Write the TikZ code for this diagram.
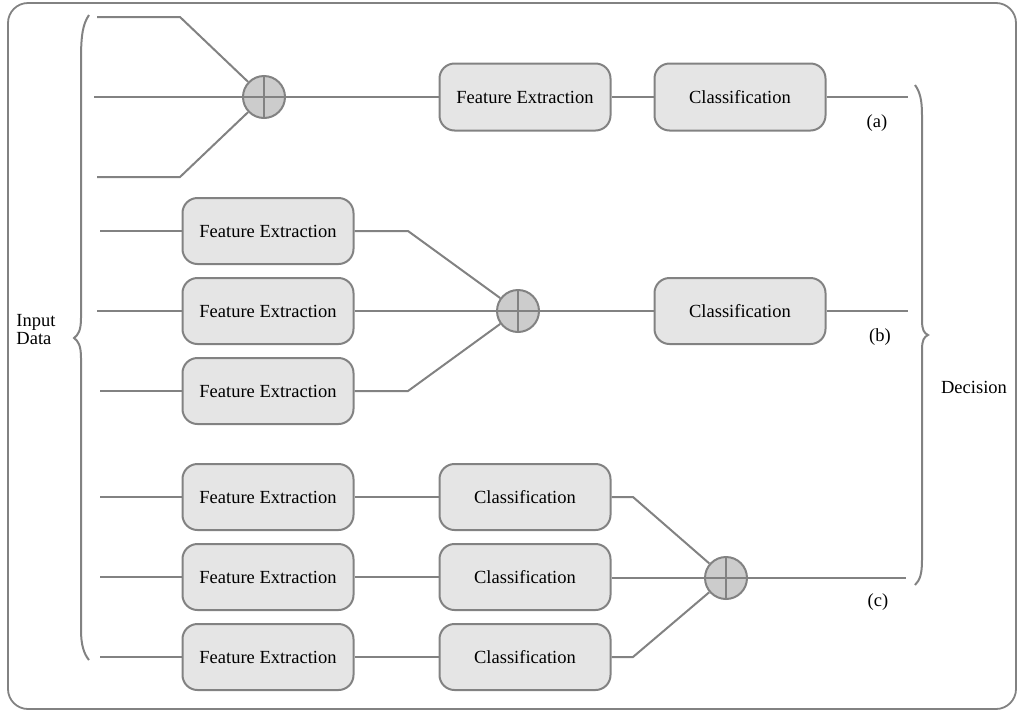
\documentclass[tikz,border=0pt]{standalone}
\usepackage{fontspec}
\setmainfont{Liberation Serif}
\definecolor{linegray}{RGB}{130,130,130}
\begin{document}
\begin{tikzpicture}[x=1pt,y=-1pt,
  wire/.style={draw=linegray, line width=2pt},
  stage/.style={draw=linegray, line width=2pt, fill=gray!20, rounded corners=15pt,
    minimum width=171pt, minimum height=67pt, inner sep=0pt},
  fuse/.style={draw=linegray, line width=2pt, fill=gray!40, circle,
    minimum size=42pt, inner sep=0pt,
    path picture={\draw[linegray, line width=2pt]
      (path picture bounding box.north) -- (path picture bounding box.south)
      (path picture bounding box.west) -- (path picture bounding box.east);}},
  lbl/.style={font=\fontsize{18.5}{21}\selectfont, text=black},
  brace/.style={draw=linegray, line width=2pt}
]
\useasboundingbox (0,0) rectangle (1021,713);
\draw[draw=linegray, line width=1.8pt, rounded corners=20pt] (8,3) rectangle (1016,709);

% braces
\draw[brace] (89,15) .. controls (83,24) and (81,34) .. (81,60) -- (81,318)
  .. controls (81,331) and (78,335) .. (74,338)
  .. controls (78,341) and (81,345) .. (81,358) -- (81,630)
  .. controls (81,645) and (84,654) .. (89,660);
\draw[brace] (915,85) .. controls (920,92) and (922,100) .. (922,115) -- (922,320)
  .. controls (922,330) and (924,333) .. (928,335)
  .. controls (924,337) and (922,340) .. (922,350) -- (922,560)
  .. controls (922,574) and (920,580) .. (915,585);

\node[lbl, align=left] (in) at (36,330) {Input\\[-3pt]Data};
\node[lbl] (dec) at (974,387) {Decision};

% (a) early fusion
\coordinate (a1) at (97,17);
\coordinate (a2) at (94,97);
\coordinate (a3) at (97,177);
\node[fuse] (sa) at (264,97) {};
\node[stage, lbl] (fa) at (525,97) {Feature Extraction};
\node[stage, lbl] (ca) at (740,97) {Classification};
\coordinate (oa) at (908,97);
\draw[wire] (a1) -- (180,17) -- (sa);
\draw[wire] (a2) -- (sa);
\draw[wire] (a3) -- (180,177) -- (sa);
\draw[wire] (sa) -- (fa);
\draw[wire] (fa) -- (ca);
\draw[wire] (ca) -- (oa);
\node[lbl] (la) at (877,123) {(a)};

% (b) feature-level fusion
\coordinate (b1) at (100,231);
\coordinate (b2) at (97,311);
\coordinate (b3) at (100,391);
\node[stage, lbl, minimum height=66pt] (fb1) at (268,231) {Feature Extraction};
\node[stage, lbl, minimum height=66pt] (fb2) at (268,311) {Feature Extraction};
\node[stage, lbl, minimum height=66pt] (fb3) at (268,391) {Feature Extraction};
\node[fuse] (sb) at (518,311) {};
\node[stage, lbl, minimum height=66pt] (cb) at (740,311) {Classification};
\coordinate (ob) at (908,311);
\draw[wire] (b1) -- (fb1);
\draw[wire] (b2) -- (fb2);
\draw[wire] (b3) -- (fb3);
\draw[wire] (fb1.east) -- (408,231) -- (sb);
\draw[wire] (fb2) -- (sb);
\draw[wire] (fb3.east) -- (408,391) -- (sb);
\draw[wire] (sb) -- (cb);
\draw[wire] (cb) -- (ob);
\node[lbl] (lb) at (880,337) {(b)};

% (c) decision-level fusion
\coordinate (c1) at (100,497);
\coordinate (c2) at (100,577);
\coordinate (c3) at (100,657);
\node[stage, lbl, minimum height=66pt] (fc1) at (268,497) {Feature Extraction};
\node[stage, lbl, minimum height=66pt] (fc2) at (268,577) {Feature Extraction};
\node[stage, lbl, minimum height=66pt] (fc3) at (268,657) {Feature Extraction};
\node[stage, lbl, minimum height=66pt] (cc1) at (525,497) {Classification};
\node[stage, lbl, minimum height=66pt] (cc2) at (525,577) {Classification};
\node[stage, lbl, minimum height=66pt] (cc3) at (525,657) {Classification};
\node[fuse] (sc) at (726,578) {};
\coordinate (oc) at (906,578);
\draw[wire] (c1) -- (fc1);
\draw[wire] (c2) -- (fc2);
\draw[wire] (c3) -- (fc3);
\draw[wire] (fc1) -- (cc1);
\draw[wire] (fc2) -- (cc2);
\draw[wire] (fc3) -- (cc3);
\draw[wire] (cc1.east) -- (633,497) -- (sc);
\draw[wire] (cc2.east |- sc) -- (sc);
\draw[wire] (cc3.east) -- (633,657) -- (sc);
\draw[wire] (sc) -- (oc);
\node[lbl] (lc) at (878,602) {(c)};
\end{tikzpicture}
\end{document}
